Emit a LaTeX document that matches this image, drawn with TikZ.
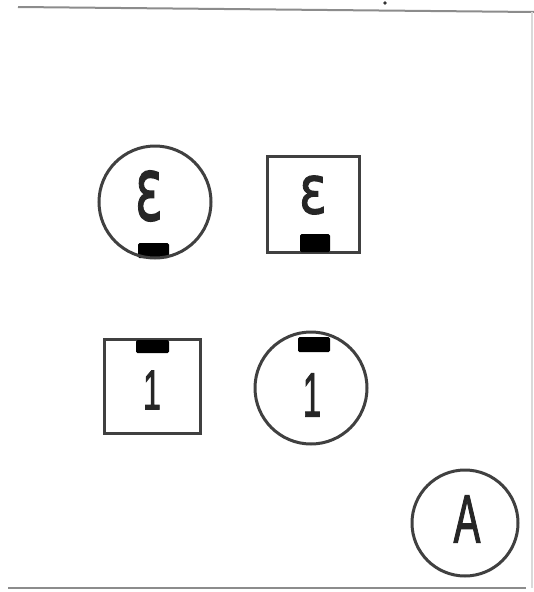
\documentclass[tikz,border=0pt]{standalone}
\usepackage{fontspec}
\setmainfont{Liberation Sans}
\newfontfamily\epsfont[FakeBold=1.5]{DejaVu Sans}
\newfontfamily\digfont[FakeBold=2]{Liberation Sans}
\begin{document}
\begin{tikzpicture}[x=1pt,y=-1pt,
  shapeline/.style={draw=black!75, line width=3pt},
  frameline/.style={draw=black!45, line width=2pt},
  pad/.style={fill=black, rounded corners=1.5pt},
  glyph/.style={inner sep=0pt, text=black!85, transform shape}]
\useasboundingbox (0,0) rectangle (534,592);
\fill[white] (0,0) rectangle (534,592);
% frame
\coordinate (tl) at (18,7);
\coordinate (tr) at (534,12);
\coordinate (bl) at (8,588);
\coordinate (br) at (526,588);
\coordinate (rt) at (532,12);
\coordinate (rb) at (532,588);
\draw[frameline] (tl) -- (tr);
\draw[frameline] (bl) -- (br);
\draw[draw=black!15, line width=1.2pt] (rt) -- (rb);
\fill[black!80] (385,3) circle (1.8);
% circle with epsilon
\fill[pad] (138,243) rectangle (169,258);
\draw[shapeline] (155,202) circle (56);
\node[glyph, yscale=1.7] (e1) at (149,196) {\fontsize{52}{52}\selectfont\epsfont ε};
% square with epsilon
\draw[shapeline] (267,156) rectangle (359,252);
\fill[pad] (300,234) rectangle (330,252);
\node[glyph, yscale=1.3] (e2) at (313,195) {\fontsize{52}{52}\selectfont\epsfont ε};
% square with 1
\draw[shapeline] (104,339) rectangle (200,433);
\fill[pad] (136,340) rectangle (169,353);
\node[glyph, yscale=1.75] (o1) at (152,390) {\fontsize{32}{32}\selectfont\digfont 1};
% circle with 1
\fill[pad] (298,337) rectangle (330,352);
\draw[shapeline] (311,388) circle (56);
\node[glyph, yscale=1.9] (o2) at (312,395) {\fontsize{33}{33}\selectfont\digfont 1};
% circle A
\draw[shapeline] (465,523) circle (53);
\node[glyph, yscale=1.7] (a) at (467,519) {\fontsize{40}{40}\selectfont\digfont A};
\end{tikzpicture}
\end{document}
